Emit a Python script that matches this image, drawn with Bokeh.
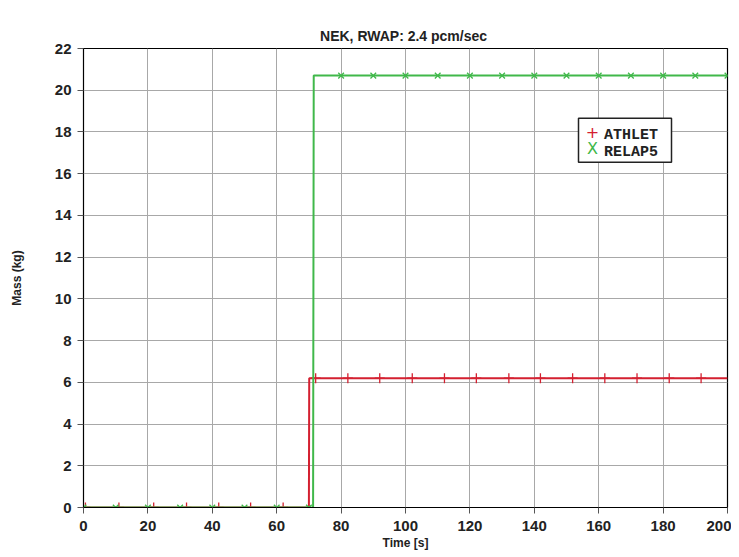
from bokeh.plotting import figure
from bokeh.models import (ColumnDataSource, Legend, LegendItem, FixedTicker, Range1d, Label,
                          Title, LinearAxis, BoxAnnotation)
from bokeh.embed import file_html
from bokeh.resources import INLINE

# ---- data ----
athlet_t = [0, 70.0, 70.1, 200]
athlet_mass = [0, 0, 6.2, 6.2]
relap_t = [0, 71.3, 71.5, 200]
relap_mass = [0, 0, 20.7, 20.7]

athlet_marker_t = [0.6, 11.0, 21.8, 32.0, 42.0, 51.9, 62.0, 72.1, 82.1, 92.0, 102.1, 112.1,
                   122.0, 132.1, 141.9, 151.9, 161.9, 171.9, 181.9, 191.8]
athlet_marker_mass = [0, 0, 0, 0, 0, 0, 0, 6.2, 6.2, 6.2, 6.2, 6.2,
                      6.2, 6.2, 6.2, 6.2, 6.2, 6.2, 6.2, 6.2]
relap_marker_t = [0, 10, 20, 30, 40, 50, 60, 70, 80, 90, 100, 110, 120, 130, 140,
                  150, 160, 170, 180, 190, 200]
relap_marker_mass = [0, 0, 0, 0, 0, 0, 0, 0, 20.7, 20.7, 20.7, 20.7, 20.7, 20.7, 20.7,
                     20.7, 20.7, 20.7, 20.7, 20.7, 20.7]

x_ticks = [0, 20, 40, 60, 80, 100, 120, 140, 160, 180, 200]
y_ticks = [0, 2, 4, 6, 8, 10, 12, 14, 16, 18, 20, 22]

title_text = "NEK, RWAP: 2.4  pcm/sec"
x_label = "Time [s]"
y_label = "Mass (kg)"
series_names = ["ATHLET", "RELAP5"]
series_symbols = ["+", "X"]

RED = "#d42030"
GREEN = "#40b84a"
series_colors = [RED, GREEN]

X0, X1, Y0, Y1 = 0, 200, 0, 22
W, H = 731, 552
BL, BR, BT, BB = 83, 4, 48, 44
FW, FH = W - BL - BR, H - BT - BB

p = figure(width=W, height=H, output_backend="svg", toolbar_location=None,
           x_range=Range1d(X0, X1), y_range=Range1d(Y0, Y1), title_location=None,
           min_border_left=BL, min_border_right=BR, min_border_top=BT, min_border_bottom=BB)

xax = p.below[0]
yax = p.left[0]
for ax, ticks in ((xax, x_ticks), (yax, y_ticks)):
    ax.ticker = FixedTicker(ticks=ticks)
    ax.major_label_text_font = "Liberation Sans"
    ax.major_label_text_font_size = "15px"
    ax.major_label_text_font_style = "bold"
    ax.major_label_text_color = "#222222"
    ax.axis_label_text_font = "Liberation Sans"
    ax.axis_label_text_font_size = "12px"
    ax.axis_label_text_font_style = "bold"
    ax.axis_label_text_color = "#222222"
    ax.axis_line_color = "black"
    ax.major_tick_line_color = "#555555"
    ax.major_tick_in = 0
    ax.major_tick_out = 6
    ax.minor_tick_line_color = None

xax.axis_label = x_label
yax.axis_label = y_label
xax.axis_label_standoff = 2
yax.axis_label_standoff = 28
xax.major_label_standoff = 7
yax.major_label_standoff = 6

# empty spacer axis nearest the frame, then the title above it
spacer = LinearAxis(ticker=FixedTicker(ticks=[]), axis_line_color=None,
                    major_tick_line_color=None, minor_tick_line_color=None,
                    major_tick_out=16, major_tick_in=0, minor_tick_out=0, minor_tick_in=0,
                    major_label_standoff=0)
p.add_layout(spacer, "above")
p.add_layout(Title(text=title_text, align="center", text_font="Liberation Sans",
                   text_font_size="14px", text_font_style="bold", text_color="#222222",
                   standoff=10), "above")

p.outline_line_color = "black"
p.outline_line_width = 1.2

p.xgrid.ticker = FixedTicker(ticks=x_ticks)
p.ygrid.ticker = FixedTicker(ticks=y_ticks)
p.grid.grid_line_color = "#a8a8a8"
p.grid.grid_line_width = 1

p.line(athlet_t, athlet_mass, line_color=RED, line_width=2)
p.scatter(athlet_marker_t, athlet_marker_mass, marker="cross", size=10, line_color=RED, line_width=1.3)
p.line(relap_t, relap_mass, line_color=GREEN, line_width=2)
p.scatter(relap_marker_t, relap_marker_mass, marker="x", size=8, line_color=GREEN, line_width=1.3)

# ---- legend ----
LEG_X, LEG_Y, PAD, ROW, GW, STAND, LW = 495, 346, 5, 17, 18, 8, 57
LEG_W = 2 * PAD + GW + STAND + LW
LEG_H = 2 * PAD + 2 * ROW


def px2x(px):
    return X0 + px / FW * (X1 - X0)


def py2y(py):
    return Y0 + py / FH * (Y1 - Y0)


p.add_layout(BoxAnnotation(left=px2x(LEG_X), right=px2x(LEG_X + LEG_W),
                           bottom=py2y(LEG_Y), top=py2y(LEG_Y + LEG_H),
                           fill_color="white", fill_alpha=1,
                           line_color="#222222", line_width=1.5, line_alpha=1))

leg_src = ColumnDataSource(data=dict(x=[-1000], y=[-1000]))
proxies = [p.scatter("x", "y", source=leg_src, marker="cross", size=1, alpha=0) for _ in series_names]

legend = Legend(items=[LegendItem(label=n, renderers=[r]) for n, r in zip(series_names, proxies)],
                location=(LEG_X, LEG_Y))
legend.label_text_font = "Liberation Mono"
legend.label_text_font_style = "bold"
legend.label_text_font_size = "15px"
legend.label_text_color = "#222222"
legend.label_height = ROW
legend.label_width = LW
legend.glyph_height = ROW
legend.glyph_width = GW
legend.spacing = 0
legend.padding = PAD
legend.margin = 0
legend.label_standoff = STAND
legend.border_line_color = None
legend.background_fill_alpha = 0
p.add_layout(legend, "center")

sym_px = LEG_X + PAD + GW / 2
row_py = [LEG_Y + PAD + ROW * 1.5, LEG_Y + PAD + ROW * 0.5]
for sym, col, py in zip(series_symbols, series_colors, row_py):
    p.add_layout(Label(x=px2x(sym_px), y=py2y(py),
                       text=sym, text_color=col, text_font="DejaVu Sans", text_font_size="16px",
                       text_align="center", text_baseline="middle", level="overlay"))

open("out.html", "w").write(file_html(p, INLINE))
